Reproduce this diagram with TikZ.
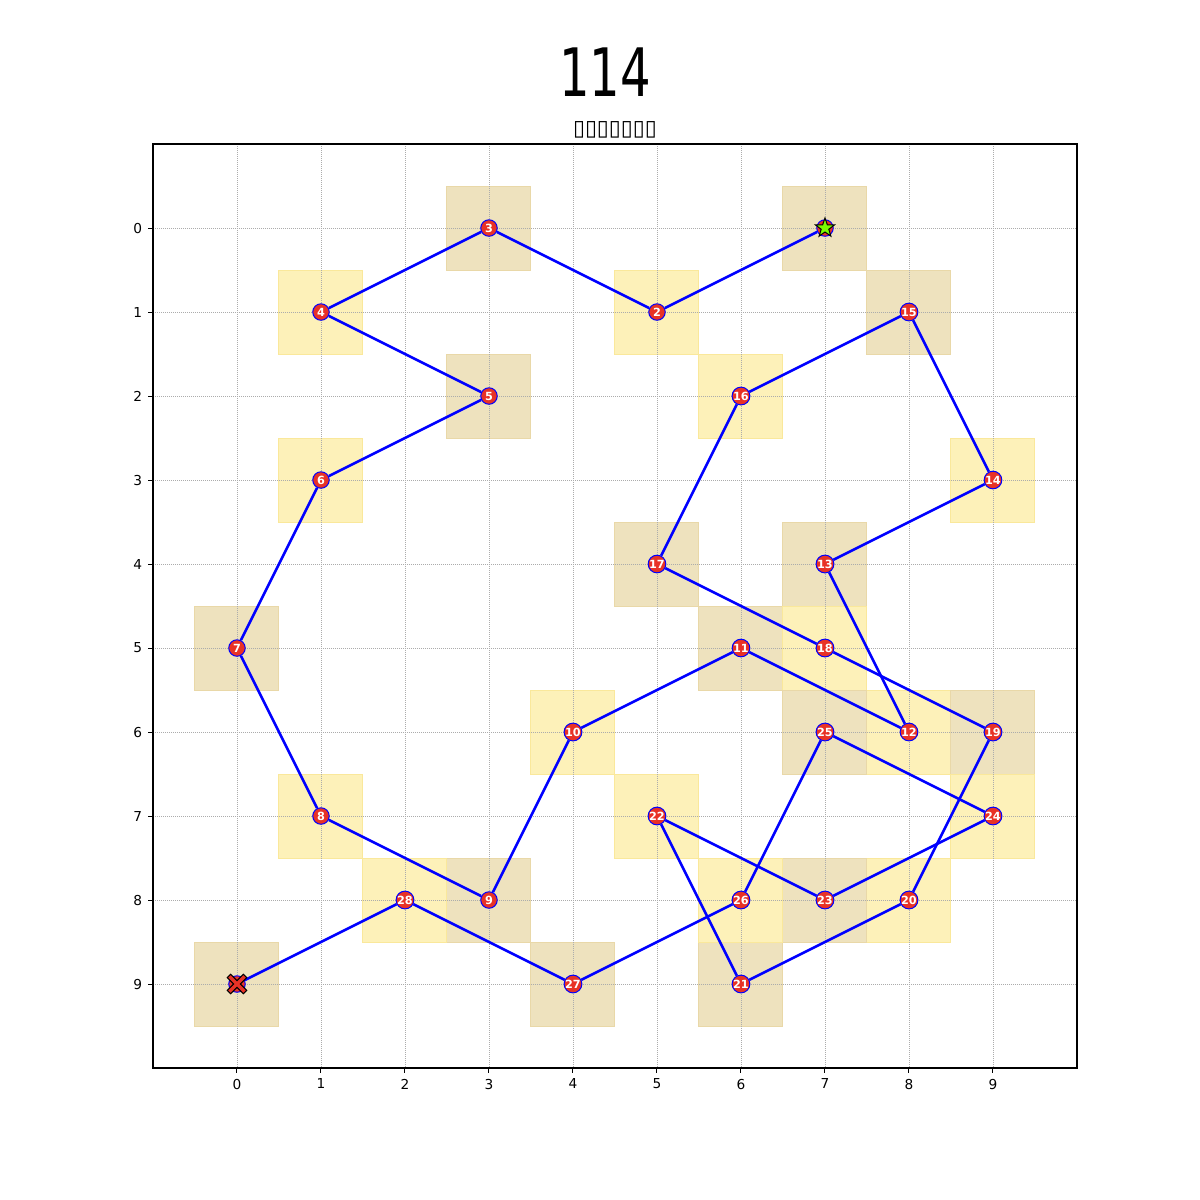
\documentclass[tikz,border=0pt]{standalone}
\usepackage{fontspec}
\setmainfont{DejaVu Sans}
\usetikzlibrary{shapes.geometric}

\definecolor{tanfill}{RGB}{238,226,190}
\definecolor{tanline}{RGB}{233,216,168}
\definecolor{goldfill}{RGB}{253,241,185}
\definecolor{goldline}{RGB}{250,232,155}
\definecolor{stopred}{RGB}{232,50,38}
\definecolor{startgreen}{RGB}{124,252,0}

\begin{document}
\begin{tikzpicture}[
        x=0.84cm, y=-0.84cm,
        tanbox/.style={fill=tanfill, draw=tanline, line width=0.1mm},
        goldbox/.style={fill=goldfill, draw=goldline, line width=0.1mm},
        gridline/.style={gray!65, dash pattern=on 0.08mm off 0.12mm, line width=0.07mm},
        route/.style={blue, line width=0.25mm},
        stop/.style={circle, fill=stopred, draw=blue, line width=0.1mm, minimum size=1.65mm, inner sep=0pt, text=white, font=\bfseries\fontsize{3.2}{3.2}\selectfont},
        ticklabel/.style={font=\fontsize{3.9}{4}\selectfont, inner sep=0pt}
    ]

        \useasboundingbox (-2.8214,-2.7143) rectangle (11.4643,11.5714);

        % cells under each stop
        \foreach \x/\y [count=\i] in {7/0,5/1,3/0,1/1,3/2,1/3,0/5,1/7,3/8,4/6,6/5,8/6,7/4,9/3,8/1,6/2,5/4,7/5,9/6,8/8,6/9,5/7,7/8,9/7,7/6,6/8,4/9,2/8,0/9} {
            \ifodd\i
                \path[tanbox] (\x-0.5,\y-0.5) rectangle (\x+0.5,\y+0.5);
            \else
                \path[goldbox] (\x-0.5,\y-0.5) rectangle (\x+0.5,\y+0.5);
            \fi
        }

        % grid, frame and ticks
        \foreach \k in {0,...,9} {
            \draw[gridline] (\k,-1) -- (\k,10);
            \draw[gridline] (-1,\k) -- (10,\k);
            \draw[line width=0.1mm] (\k,10) -- ++(0,-0.49mm) node[below=0.55mm, ticklabel] {\k};
            \draw[line width=0.1mm] (-1,\k) -- ++(-0.49mm,0) node[left=0.55mm, ticklabel] {\k};
        }
        \draw[line width=0.11mm] (-1,-1) rectangle (10,10);

        % stops
        \foreach \x/\y [count=\i] in {7/0,5/1,3/0,1/1,3/2,1/3,0/5,1/7,3/8,4/6,6/5,8/6,7/4,9/3,8/1,6/2,5/4,7/5,9/6,8/8,6/9,5/7,7/8,9/7,7/6,6/8,4/9,2/8,0/9} {
            \ifnum\i=1 \node[stop] (p\i) at (\x,\y) {};
            \else\ifnum\i=29 \node[stop] (p\i) at (\x,\y) {};
            \else \node[stop] (p\i) at (\x,\y) {\i};
            \fi\fi
        }

        % route
        \foreach \i [evaluate=\i as \j using int(\i+1)] in {1,...,28}
            \draw[route] (p\i) -- (p\j);

        % start and end marks
        \node[star, star points=5, star point ratio=2.5, fill=startgreen, draw=black, line width=0.1mm, minimum size=2mm, inner sep=0pt] (startmark) at (p1) {};
        \draw[fill=stopred, line width=0.1mm, shift={(p29.center)}, rotate=45, x=1.2mm, y=1.2mm]
            (0.2,0.2) -- (0.95,0.2) -- (0.95,-0.2) -- (0.2,-0.2) -- (0.2,-0.95) -- (-0.2,-0.95)
            -- (-0.2,-0.2) -- (-0.95,-0.2) -- (-0.95,0.2) -- (-0.2,0.2) -- (-0.2,0.95) -- (0.2,0.95) -- cycle;

        % titles
        \node[font=\fontsize{19}{21}\selectfont] (title) at (4.381,-1.857) {\scalebox{0.72}[1]{114}};
        \node[font=\fontsize{6.2}{7}\selectfont] (subtitle) at (4.5,-1.167) {▯▯▯▯▯▯▯};

    \end{tikzpicture}
\end{document}
